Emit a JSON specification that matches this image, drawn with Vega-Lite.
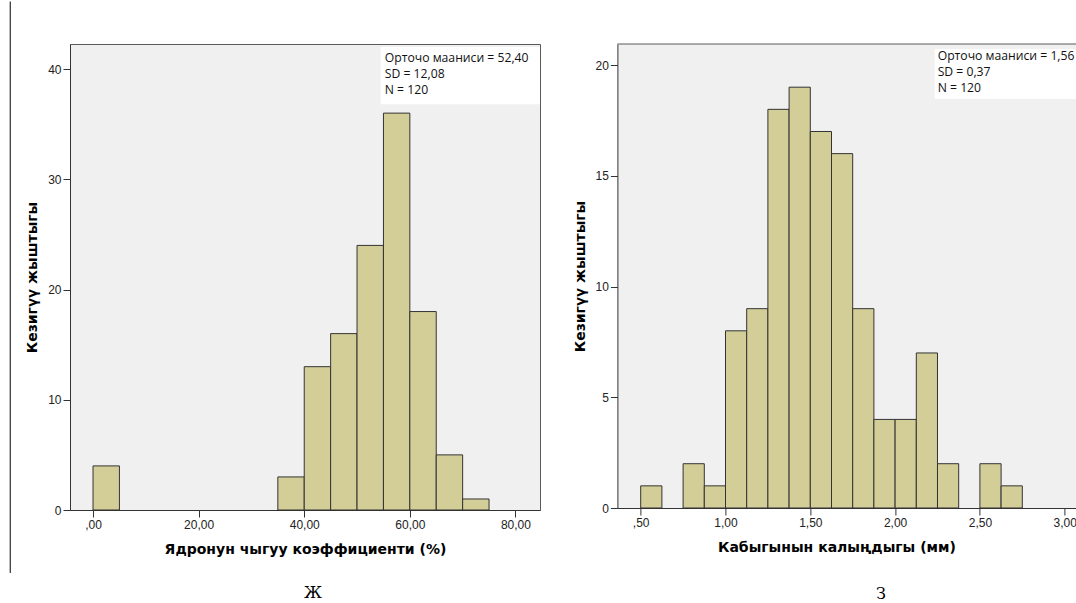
{
  "$schema": "https://vega.github.io/schema/vega-lite/v6.json",
  "padding": {"left": 9, "top": 0, "right": 0, "bottom": 0},
  "background": "white",
  "datasets": {
    "kernel": [
      {"bin_start": 0, "bin_end": 5, "count": 4},
      {"bin_start": 35, "bin_end": 40, "count": 3},
      {"bin_start": 40, "bin_end": 45, "count": 13},
      {"bin_start": 45, "bin_end": 50, "count": 16},
      {"bin_start": 50, "bin_end": 55, "count": 24},
      {"bin_start": 55, "bin_end": 60, "count": 36},
      {"bin_start": 60, "bin_end": 65, "count": 18},
      {"bin_start": 65, "bin_end": 70, "count": 5},
      {"bin_start": 70, "bin_end": 75, "count": 1}
    ],
    "shell": [
      {"bin_start": 0.5, "bin_end": 0.625, "count": 1},
      {"bin_start": 0.75, "bin_end": 0.875, "count": 2},
      {"bin_start": 0.875, "bin_end": 1.0, "count": 1},
      {"bin_start": 1.0, "bin_end": 1.125, "count": 8},
      {"bin_start": 1.125, "bin_end": 1.25, "count": 9},
      {"bin_start": 1.25, "bin_end": 1.375, "count": 18},
      {"bin_start": 1.375, "bin_end": 1.5, "count": 19},
      {"bin_start": 1.5, "bin_end": 1.625, "count": 17},
      {"bin_start": 1.625, "bin_end": 1.75, "count": 16},
      {"bin_start": 1.75, "bin_end": 1.875, "count": 9},
      {"bin_start": 1.875, "bin_end": 2.0, "count": 4},
      {"bin_start": 2.0, "bin_end": 2.125, "count": 4},
      {"bin_start": 2.125, "bin_end": 2.25, "count": 7},
      {"bin_start": 2.25, "bin_end": 2.375, "count": 2},
      {"bin_start": 2.5, "bin_end": 2.625, "count": 2},
      {"bin_start": 2.625, "bin_end": 2.75, "count": 1}
    ],
    "one": [{}]
  },
  "hconcat": [
    {
      "width": 470,
      "height": 466,
      "view": {"fill": "#F0F0F0", "stroke": "#5a5a5a", "strokeWidth": 1},
      "title": {"text": "Ж", "orient": "bottom", "anchor": "middle", "frame": "group", "font": "DejaVu Serif", "fontSize": 16, "fontWeight": "normal", "color": "#000", "offset": 12, "dx": 8},
      "layer": [
        {
          "data": {"name": "kernel"},
          "mark": {"type": "bar", "fill": "#D3CE98", "stroke": "#333333", "strokeWidth": 1},
          "encoding": {
            "x": {"field": "bin_start", "type": "quantitative",
                  "scale": {"domain": [-4.36, 84.65], "nice": false, "zero": false},
                  "axis": {"title": "Ядронун чыгуу коэффициенти (%)", "values": [0, 20, 40, 60, 80],
                           "labelExpr": "datum.value == 0 ? ',00' : replace(format(datum.value, '.2f'), '.', ',')"}},
            "x2": {"field": "bin_end"},
            "y": {"field": "count", "type": "quantitative",
                  "scale": {"domain": [0, 42.27], "nice": false},
                  "axis": {"title": "Кезигүү жыштыгы", "values": [0, 10, 20, 30, 40]}},
            "y2": {"datum": 0}
          }
        },
        {
          "data": {"name": "one"},
          "mark": {"type": "rect", "fill": "white", "stroke": null, "clip": true},
          "encoding": {
            "x": {"datum": 54.49}, "x2": {"datum": 84.65},
            "y": {"datum": 42.0}, "y2": {"datum": 36.8}
          }
        },
        {
          "data": {"name": "one"},
          "mark": {"type": "text", "align": "left", "baseline": "alphabetic", "font": "Open Sans", "fontSize": 12.2, "color": "#111", "lineHeight": 16.3, "clip": true},
          "encoding": {
            "x": {"datum": 55.25},
            "y": {"datum": 40.66},
            "text": {"value": ["Орточо мааниси = 52,40", "SD = 12,08", "N = 120"]}
          }
        },
        {
          "data": {"name": "one"},
          "mark": {"type": "rule", "color": "#000", "strokeWidth": 1, "clip": false},
          "encoding": {
            "x": {"datum": -15.68},
            "y": {"datum": 46.12},
            "y2": {"datum": -5.71}
          }
        }
      ]
    },
    {
      "width": 459,
      "height": 464,
      "view": {"fill": "#F0F0F0", "stroke": null},
      "title": {"text": "З", "orient": "bottom", "anchor": "middle", "frame": "group", "font": "DejaVu Serif", "fontSize": 16, "fontWeight": "normal", "color": "#000", "offset": 32, "dx": 34},
      "layer": [
        {
          "data": {"name": "shell"},
          "mark": {"type": "bar", "fill": "#D3CE98", "stroke": "#333333", "strokeWidth": 1},
          "encoding": {
            "x": {"field": "bin_start", "type": "quantitative",
                  "scale": {"domain": [0.3626, 3.0690], "nice": false, "zero": false},
                  "axis": {"title": "Кабыгынын калыңдыгы (мм)", "values": [0.5, 1, 1.5, 2, 2.5, 3], "titleX": 219,
                           "labelExpr": "datum.value < 1 ? ',' + substring(format(datum.value, '.2f'), 2) : replace(format(datum.value, '.2f'), '.', ',')"}},
            "x2": {"field": "bin_end"},
            "y": {"field": "count", "type": "quantitative",
                  "scale": {"domain": [0, 20.95], "nice": false},
                  "axis": {"title": "Кезигүү жыштыгы", "values": [0, 5, 10, 15, 20]}},
            "y2": {"datum": 0}
          }
        },
        {
          "data": {"name": "one"},
          "mark": {"type": "rule", "color": "#5a5a5a", "strokeWidth": 1, "clip": false},
          "encoding": {
            "x": {"datum": 0.3626}, "x2": {"datum": 3.069},
            "y": {"datum": 20.95}
          }
        },
        {
          "data": {"name": "one"},
          "mark": {"type": "rect", "fill": "white", "stroke": null, "clip": true},
          "encoding": {
            "x": {"datum": 2.2335}, "x2": {"datum": 3.069},
            "y": {"datum": 20.72}, "y2": {"datum": 18.47}
          }
        },
        {
          "data": {"name": "one"},
          "mark": {"type": "text", "align": "left", "baseline": "alphabetic", "font": "Open Sans", "fontSize": 12.2, "color": "#111", "lineHeight": 16, "clip": true},
          "encoding": {
            "x": {"datum": 2.251},
            "y": {"datum": 20.21},
            "text": {"value": ["Орточо мааниси = 1,56", "SD = 0,37", "N = 120"]}
          }
        }
      ]
    }
  ],
  "spacing": 77.4,
  "bounds": "flush",
  "config": {
    "axis": {
      "grid": false,
      "domain": true,
      "domainColor": "#333333",
      "domainWidth": 1,
      "tickColor": "#333333",
      "tickSize": 7,
      "tickWidth": 1,
      "labelFont": "Liberation Sans",
      "labelFontSize": 12,
      "labelColor": "#222222",
      "labelPadding": 2,
      "titleFont": "DejaVu Sans",
      "titleFontSize": 14,
      "titleFontWeight": "bold",
      "titleColor": "#000000"
    },
    "axisX": {"labelFlush": false, "labelOverlap": false, "titlePadding": 12},
    "axisY": {"labelOverlap": false, "titlePadding": 8}
  }
}
